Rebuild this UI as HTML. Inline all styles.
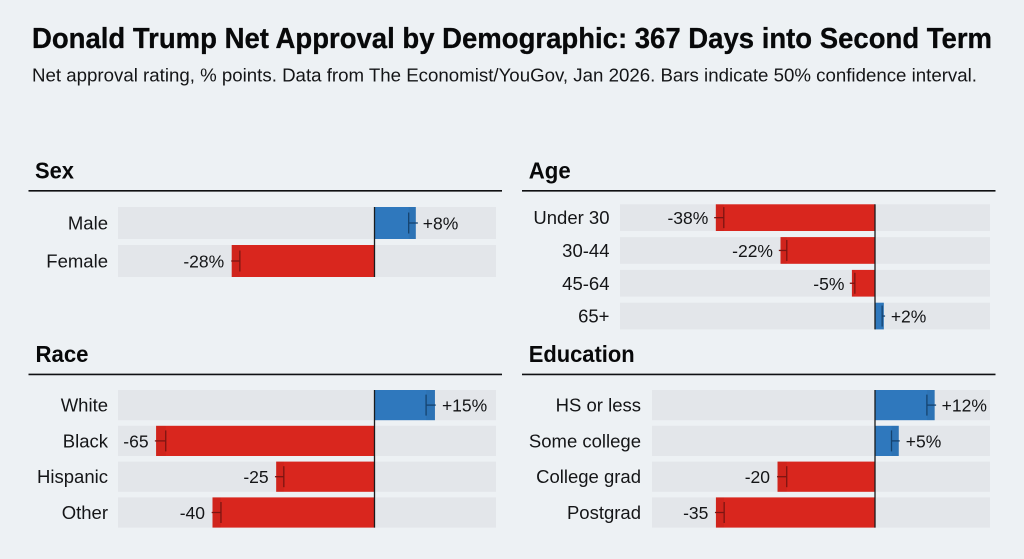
<!DOCTYPE html>
<html lang="en">
<head>
<meta charset="utf-8">
<title>Donald Trump Net Approval by Demographic</title>
<style>
  html, body { margin: 0; padding: 0; background: #edf1f4; }
  #chart { display: block; width: 1024px; height: 559px; font-family: "Liberation Sans", sans-serif; }
  text { fill: #141517; }
</style>
</head>
<body>
<svg id="chart" xmlns="http://www.w3.org/2000/svg" width="1024" height="559" viewBox="0 0 1024 559">
  <rect x="0" y="0" width="1024" height="559" fill="#edf1f4"/>
  <text x="32" y="48" font-size="28.5" font-weight="700" style="fill:#08090a" stroke="#08090a" stroke-width="0.3" textLength="960" lengthAdjust="spacingAndGlyphs">Donald Trump Net Approval by Demographic: 367 Days into Second Term</text>
  <text x="32" y="81.5" font-size="18.3" textLength="945" lengthAdjust="spacingAndGlyphs">Net approval rating, % points. Data from The Economist/YouGov, Jan 2026. Bars indicate 50% confidence interval.</text>

  <text x="35" y="178.5" font-size="23.5" font-weight="700" style="fill:#08090a" textLength="39" lengthAdjust="spacingAndGlyphs">Sex</text>
  <line x1="28.5" x2="502" y1="190.8" y2="190.8" stroke="#0f1012" stroke-width="1.6"/>
  <text x="528.7" y="178.5" font-size="23.5" font-weight="700" style="fill:#08090a" textLength="42" lengthAdjust="spacingAndGlyphs">Age</text>
  <line x1="522" x2="995.5" y1="190.8" y2="190.8" stroke="#0f1012" stroke-width="1.6"/>
  <text x="35.5" y="362" font-size="23.5" font-weight="700" style="fill:#08090a" textLength="53" lengthAdjust="spacingAndGlyphs">Race</text>
  <line x1="28.5" x2="502" y1="374.4" y2="374.4" stroke="#0f1012" stroke-width="1.6"/>
  <text x="528.7" y="362" font-size="23.5" font-weight="700" style="fill:#08090a" textLength="106" lengthAdjust="spacingAndGlyphs">Education</text>
  <line x1="522" x2="995.5" y1="374.4" y2="374.4" stroke="#0f1012" stroke-width="1.6"/>

  <g id="marks"></g>
</svg>

<script>
// Category names per panel
const sexCategories = ["Male", "Female"];
const ageCategories = ["Under 30", "30-44", "45-64", "65+"];
const raceCategories = ["White", "Black", "Hispanic", "Other"];
const educationCategories = ["HS or less", "Some college", "College grad", "Postgrad"];

const sexValues = [8.1, -28];
const ageValues = [-37.9, -22.5, -5.5, 2.1];
const raceValues = [15, -54.2, -24.4, -40.2];
const educationValues = [12.3, 4.9, -20.1, -32.8];

// Confidence interval: end nearer zero
const sexCiNear = [6.7, -26.4];
const ageCiNear = [-36, -21, -4.8, 1.7];
const raceCiNear = [12.8, -51.8, -22.5, -38.1];
const educationCiNear = [10.7, 3.4, -18.2, -31.1];

// Confidence interval: end farther from zero
const sexCiFar = [8.5, -28.1];
const ageCiFar = [-38.3, -22.9, -6, 2.4];
const raceCiFar = [15.2, -54.5, -24.7, -40.4];
const educationCiFar = [12.6, 5.1, -20.2, -33];

// Printed value labels
const sexLabels = ["+8%", "-28%"];
const ageLabels = ["-38%", "-22%", "-5%", "+2%"];
const raceLabels = ["+15%", "-65", "-25", "-40"];
const educationLabels = ["+12%", "+5%", "-20", "-35"];

const SVG_NS = "http://www.w3.org/2000/svg";
const marks = document.getElementById("marks");

function shape(tag, attrs, parent) {
  const el = document.createElementNS(SVG_NS, tag);
  for (const key in attrs) el.setAttribute(key, attrs[key]);
  parent.appendChild(el);
  return el;
}

function slug(text) {
  return text.toLowerCase().replace(/[^a-z0-9]+/g, "-");
}

function drawPanel(panel) {
  // Axis functions for this panel
  const xOf = function (v) { return panel.zeroX + v * panel.pxPerPoint; };
  const rowTop = function (i) { return panel.top + i * panel.step; };
  const rowMid = function (i) { return rowTop(i) + panel.rowHeight / 2; };

  const group = shape("g", {}, marks);
  
  

  panel.categories.forEach(function (category, i) {
    const id = panel.name + "-" + slug(category);
    const value = panel.values[i];
    const color = value >= 0 ? "#2f78bd" : "#d9261e";
    const ciColor = value >= 0 ? "#15436f" : "#7c1512";

    const track = shape("rect", { x: panel.trackLeft, y: rowTop(i), width: panel.trackRight - panel.trackLeft, height: panel.rowHeight, fill: "#e3e6ea" }, group);
    
    

    const label = shape("text", { x: panel.labelRight, y: rowMid(i) + 6.5, "font-size": 18.5, "text-anchor": "end" }, group);
    label.textContent = category;
    
    

    const endX = xOf(value);
    const bar = shape("rect", { x: Math.min(endX, panel.zeroX), y: rowTop(i), width: Math.abs(endX - panel.zeroX), height: panel.rowHeight, fill: color }, group);
    
    

    const nearX = xOf(panel.ciNear[i]);
    const farX = xOf(panel.ciFar[i]);

    const band = shape("rect", { x: Math.min(nearX, endX), y: rowTop(i), width: Math.abs(nearX - endX), height: panel.rowHeight, fill: "#000", opacity: 0.04 }, group);
    
    

    const stem = shape("line", { x1: nearX, x2: farX, y1: rowMid(i), y2: rowMid(i), stroke: ciColor, "stroke-width": 1.3 }, group);
    
    

    const cap = shape("line", { x1: nearX, x2: nearX, y1: rowMid(i) - 10.5, y2: rowMid(i) + 10.5, stroke: ciColor, "stroke-width": 1.3 }, group);
    
    

    const positive = value >= 0;
    const printed = shape("text", { x: endX + (positive ? 7 : -7.5), y: rowMid(i) + 6.5, "font-size": 17.5, "text-anchor": positive ? "start" : "end" }, group);
    printed.textContent = panel.labels[i];
    
    
  });

  const last = panel.categories.length - 1;
  const zero = shape("line", { x1: panel.zeroX, x2: panel.zeroX, y1: rowTop(0), y2: rowTop(last) + panel.rowHeight, stroke: "#1a1b1d", "stroke-width": 1.3 }, group);
  
  
}

drawPanel({ name: "sex", categories: sexCategories, values: sexValues, ciNear: sexCiNear, ciFar: sexCiFar, labels: sexLabels,
  zeroX: 374.5, pxPerPoint: 5.1, trackLeft: 118, trackRight: 496, labelRight: 108, top: 207, step: 38, rowHeight: 32 });
drawPanel({ name: "age", categories: ageCategories, values: ageValues, ciNear: ageCiNear, ciFar: ageCiFar, labels: ageLabels,
  zeroX: 875, pxPerPoint: 4.2, trackLeft: 620, trackRight: 990, labelRight: 609.5, top: 204.3, step: 32.8, rowHeight: 26.7 });
drawPanel({ name: "race", categories: raceCategories, values: raceValues, ciNear: raceCiNear, ciFar: raceCiFar, labels: raceLabels,
  zeroX: 374.5, pxPerPoint: 4.03, trackLeft: 118, trackRight: 496, labelRight: 108, top: 390, step: 35.8, rowHeight: 30.2 });
drawPanel({ name: "education", categories: educationCategories, values: educationValues, ciNear: educationCiNear, ciFar: educationCiFar, labels: educationLabels,
  zeroX: 875, pxPerPoint: 4.85, trackLeft: 652, trackRight: 990, labelRight: 641, top: 390, step: 35.8, rowHeight: 30.2 });
</script>
</body>
</html>
